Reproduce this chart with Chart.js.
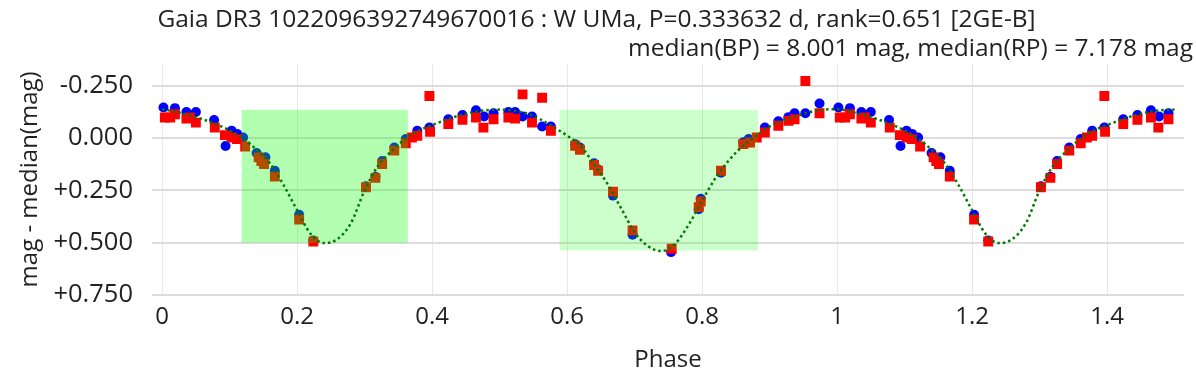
<!DOCTYPE html>
<html lang="en">
<head>
  <meta charset="UTF-8">
  <title>Gaia DR3 1022096392749670016 : W UMa</title>
  <script src="https://cdn.jsdelivr.net/npm/chart.js@4"></script>
  <style>
    html, body { margin: 0; padding: 0; background: #fff; }
    #wrap { width: 1196px; height: 388px; }
  </style>
</head>
<body>
  <div id="wrap"><canvas id="lc"></canvas></div>
  <script>
    // G_BP points, phase 0..1 (folded copy added for phase+1 below)
    const bpPhase = [0.002, 0.019, 0.036, 0.050, 0.077, 0.094, 0.103, 0.111, 0.120, 0.140, 0.153, 0.167, 0.203, 0.224,
      0.302, 0.316, 0.326, 0.344, 0.361, 0.378, 0.396, 0.424, 0.445, 0.465, 0.477, 0.491, 0.513, 0.523, 0.534, 0.548,
      0.563, 0.576, 0.612, 0.619, 0.640, 0.646, 0.668, 0.697, 0.754, 0.795, 0.798, 0.828, 0.861, 0.869, 0.893, 0.913,
      0.928, 0.937, 0.953, 0.974];
    const bpMag = [-0.146, -0.143, -0.125, -0.125, -0.086, 0.038, -0.035, -0.020, -0.003, 0.071, 0.092, 0.156, 0.367, 0.490,
      0.230, 0.185, 0.110, 0.045, 0.005, -0.035, -0.050, -0.090, -0.110, -0.133, -0.103, -0.119, -0.125, -0.125, -0.103, -0.103,
      -0.055, -0.055, 0.030, 0.045, 0.120, 0.150, 0.275, 0.462, 0.545, 0.340, 0.290, 0.166, 0.020, 0.005, -0.050, -0.080,
      -0.100, -0.119, -0.119, -0.165];

    // G_RP points
    const rpPhase = [0.004, 0.012, 0.019, 0.036, 0.041, 0.050, 0.078, 0.093, 0.103, 0.111, 0.123, 0.143, 0.147, 0.151,
      0.167, 0.203, 0.224, 0.302, 0.316, 0.326, 0.344, 0.361, 0.370, 0.378, 0.397, 0.396, 0.424, 0.445, 0.465, 0.476,
      0.491, 0.513, 0.523, 0.534, 0.548, 0.563, 0.576, 0.612, 0.619, 0.640, 0.646, 0.668, 0.697, 0.755, 0.795, 0.798,
      0.828, 0.861, 0.871, 0.881, 0.893, 0.913, 0.928, 0.937, 0.953, 0.974];
    const rpMag = [-0.098, -0.098, -0.114, -0.093, -0.098, -0.074, -0.050, -0.014, -0.003, 0.005, 0.040, 0.092, 0.110, 0.124,
      0.184, 0.389, 0.494, 0.235, 0.190, 0.124, 0.060, 0.025, -0.003, -0.011, -0.030, -0.201, -0.067, -0.087, -0.098, -0.050,
      -0.090, -0.098, -0.093, -0.209, -0.074, -0.193, -0.035, 0.037, 0.056, 0.129, 0.156, 0.256, 0.441, 0.529, 0.330, 0.303,
      0.156, 0.029, 0.021, -0.003, -0.027, -0.059, -0.082, -0.090, -0.273, -0.119];

    // two-gaussian model
    const modelPhase = [0.00, 0.02, 0.04, 0.06, 0.08, 0.10, 0.12, 0.14, 0.16, 0.18, 0.20, 0.22, 0.24, 0.26, 0.28, 0.30,
      0.32, 0.34, 0.36, 0.38, 0.40, 0.42, 0.44, 0.46, 0.48, 0.50, 0.52, 0.54, 0.56, 0.58, 0.60, 0.62, 0.64, 0.66, 0.68,
      0.70, 0.72, 0.74, 0.76, 0.78, 0.80, 0.82, 0.84, 0.86, 0.88, 0.90, 0.92, 0.94, 0.96, 0.98];
    const modelMag = [-0.138, -0.126, -0.110, -0.090, -0.066, -0.036, 0.002, 0.056, 0.122, 0.225, 0.345, 0.458, 0.502, 0.482,
      0.405, 0.250, 0.132, 0.062, 0.005, -0.036, -0.062, -0.086, -0.108, -0.124, -0.133, -0.136, -0.131, -0.118, -0.090,
      -0.052, -0.012, 0.038, 0.125, 0.220, 0.335, 0.450, 0.517, 0.540, 0.505, 0.415, 0.300, 0.190, 0.105, 0.040, -0.010,
      -0.055, -0.085, -0.105, -0.125, -0.136];

    // eclipse windows: [phase start, phase end], [mag top, mag bottom]
    const eclipsePhase = [[0.118, 0.364], [0.589, 0.883]];
    const eclipseMag = [[-0.135, 0.500], [-0.135, 0.537]];

    const xTicks = [0, 0.2, 0.4, 0.6, 0.8, 1, 1.2, 1.4];
    const xTickLabels = ['0', '0.2', '0.4', '0.6', '0.8', '1', '1.2', '1.4'];
    const yTicks = [-0.25, 0, 0.25, 0.5, 0.75];
    const yTickLabels = ['-0.250', '0.000', '+0.250', '+0.500', '+0.750'];

    // repeat the first half cycle after phase 1
    function fold(phase, mag, upto) {
      const pts = phase.map((p, i) => ({ x: p, y: mag[i] }));
      phase.forEach((p, i) => { if (p <= upto) pts.push({ x: p + 1, y: mag[i] }); });
      return pts;
    }

    const font = { family: 'Open Sans', size: 24 };
    const textColor = '#222';

    const eclipseBoxes = {
      id: 'eclipseBoxes',
      beforeDatasetDraw(chart, args) {
        if (args.index !== 2) return;
        const { ctx, chartArea, scales: { x, y } } = chart;
        const fills = ['rgba(0, 255, 0, 0.3)', 'rgba(0, 255, 0, 0.2)'];
        ctx.save();
        ctx.beginPath();
        ctx.rect(chartArea.left, chartArea.top, chartArea.width, chartArea.height);
        ctx.clip();
        eclipsePhase.forEach((ph, i) => {
          const x0 = x.getPixelForValue(ph[0]);
          const x1 = x.getPixelForValue(ph[1]);
          const y0 = y.getPixelForValue(eclipseMag[i][0]);
          const y1 = y.getPixelForValue(eclipseMag[i][1]);
          ctx.fillStyle = fills[i];
          ctx.fillRect(x0, y0, x1 - x0, y1 - y0);
        });
        ctx.restore();
      }
    };

    new Chart(document.getElementById('lc'), {
      type: 'scatter',
      data: {
        datasets: [
          {
            label: 'BP',
            data: fold(bpPhase, bpMag, 0.5),
            pointStyle: 'circle',
            pointRadius: 5,
            backgroundColor: '#0000ff',
            borderWidth: 0,
            order: 3
          },
          {
            label: 'RP',
            data: fold(rpPhase, rpMag, 0.5),
            pointStyle: 'rect',
            pointRadius: 7,
            backgroundColor: '#ff0000',
            borderWidth: 0,
            order: 2
          },
          {
            label: 'model',
            data: fold(modelPhase, modelMag, 0.5),
            showLine: true,
            pointRadius: 0,
            borderColor: '#007a00',
            borderWidth: 2.5,
            borderDash: [2.5, 3],
            cubicInterpolationMode: 'monotone',
            order: 0
          }
        ]
      },
      options: {
        responsive: true,
        maintainAspectRatio: false,
        animation: false,
        layout: { padding: { left: 0, right: 3, top: 0, bottom: 0 } },
        plugins: {
          legend: { display: false },
          tooltip: { enabled: false },
          title: {
            display: true,
            text: 'Gaia DR3 1022096392749670016 : W UMa, P=0.333632 d, rank=0.651 [2GE-B]',
            color: textColor,
            font: { family: 'Open Sans', size: 24.5, weight: 'normal' },
            padding: { top: 5, bottom: 0 }
          },
          subtitle: {
            display: true,
            text: 'median(BP) = 8.001 mag, median(RP) = 7.178 mag',
            align: 'end',
            color: textColor,
            font: { family: 'Open Sans', size: 24.5, weight: 'normal' },
            padding: { top: 0, bottom: 0 }
          }
        },
        scales: {
          x: {
            type: 'linear',
            min: -0.015,
            max: 1.514,
            afterBuildTicks: s => { s.ticks = xTicks.map(v => ({ value: v })); },
            afterFit: s => { s.height = 93; s.paddingRight = 12; },
            ticks: {
              autoSkip: false,
              maxRotation: 0,
              padding: 8,
              color: textColor,
              font: font,
              callback: (v, i) => xTickLabels[i]
            },
            grid: { color: '#e8e8e8', lineWidth: 1, drawTicks: false },
            border: { display: false },
            title: { display: true, text: 'Phase', color: textColor, font: font, padding: { top: 13, bottom: 13 } }
          },
          y: {
            type: 'linear',
            reverse: true,
            min: -0.355,
            max: 0.75,
            afterBuildTicks: s => { s.ticks = yTicks.map(v => ({ value: v })); },
            afterFit: s => { s.width = 152; },
            ticks: {
              autoSkip: false,
              padding: 19,
              color: textColor,
              font: { family: 'Open Sans', size: 25.5 },
              callback: (v, i) => yTickLabels[i]
            },
            grid: { color: '#dddddd', lineWidth: 2, drawTicks: false },
            border: { display: false },
            title: { display: true, text: 'mag - median(mag)', color: textColor, font: font, padding: { top: 16, bottom: 0 } }
          }
        }
      },
      plugins: [eclipseBoxes]
    });
  </script>
</body>
</html>
